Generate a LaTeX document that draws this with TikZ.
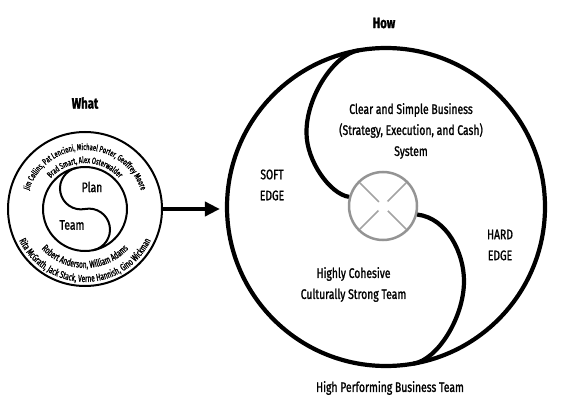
\documentclass[tikz,border=0pt]{standalone}
\usepackage{fontspec}
\setmainfont{Fira Sans}[FakeStretch=0.75, FakeBold=1.3]
\newfontfamily\arcfam{Fira Sans}[FakeStretch=0.66, FakeBold=1.2]
\usetikzlibrary{arrows.meta,decorations.text,fadings}
\newcommand\arcA{\arcfam\fontsize{8.8}{9}\selectfont}
\newcommand\arcB{\arcfam\fontsize{10}{10}\selectfont}
\begin{document}
\begin{tikzpicture}[x=1pt,y=1pt,
  lbl/.style={font=\fontsize{13.8}{21}\selectfont, align=center, inner sep=0pt},
  head/.style={font=\bfseries\fontsize{15}{16}\selectfont, inner sep=0pt},
  thickring/.style={circle, draw, line width=4.2pt, inner sep=0pt},
  thinring/.style={circle, draw, line width=2pt, inner sep=0pt},
  scurve/.style={line width=4.2pt},
  arctext/.style={decorate, decoration={text along path, text align=center, text={#1}}},
]
\useasboundingbox (0,0) rectangle (576,416);
% big circle
\node[thickring, minimum size=318pt] (bc) at (386,209) {};
% centre circle with cross
\node[circle, draw=black!42, line width=2.5pt, minimum size=68pt, inner sep=0pt] (sc) at (383,210) {};
\draw[black!36, line width=1.7pt, shorten >=2.5pt, shorten <=2.5pt] (sc.45) -- (sc.225);
\draw[black!36, line width=1.7pt, shorten >=2.5pt, shorten <=2.5pt] (sc.135) -- (sc.315);
\fill[white, path fading=circle with fuzzy edge 15 percent] (sc.center) circle (7);
% S curve
\draw[scurve] ([shift={(bc.center)}]100:159) .. controls (335,362) and (306,320) .. (306.5,283)
  .. controls (306.5,255) and (330,222) .. (sc.165);
\draw[scurve] (sc.-14) .. controls (447,198) and (464,163) .. (464,135)
  .. controls (464,98) and (437,56) .. ([shift={(bc.center)}]-80:159);
% left diagram
\node[thinring, minimum size=154pt] (lc) at (85,207) {};
\node[thinring, minimum size=84pt] (li) at (85,207) {};
\begin{scope}[shift={(li.center)}, rotate=11]
  \draw[line width=2pt] (0,42) arc[start angle=90, end angle=270, radius=21]
    arc[start angle=90, end angle=-90, radius=21];
\end{scope}
% arrow
\draw[line width=4pt, -{Triangle[length=15pt,width=14pt]}, shorten >=5pt] (lc.east) -- (lc.east -| bc.west);
% curved texts
\path[arctext={|\arcA|Jim Collins, Pat Lencioni, Michael Porter, Geoffrey Moore}]
  ([shift={(lc.center)}]167:59) arc[start angle=167, end angle=13, radius=59];
\path[arctext={|\arcA|Brad Smart, Alex Osterwalder}]
  ([shift={(lc.center)}]140:46) arc[start angle=140, end angle=40, radius=46];
\path[arctext={|\arcB|Robert Anderson, William Adams}]
  ([shift={(lc.center)}]210:59) arc[start angle=210, end angle=330, radius=59];
\path[arctext={|\arcB|Rita McGrath, Jack Stack, Verne Hannish, Gino Wickman}]
  ([shift={(lc.center)}]196:73) arc[start angle=196, end angle=344, radius=73];
% labels
\node[head] (how) at (384,393) {How};
\node[head] (what) at (85,313) {What};
\node[lbl] (sys) at (411,285) {Clear and Simple Business\\(Strategy, Execution, and Cash)\\System};
\node[lbl] (soft) at (272,231) {SOFT\\EDGE};
\node[lbl] (hard) at (500,171) {HARD\\EDGE};
\node[lbl] (team) at (353.5,131.5) {Highly Cohesive\\Culturally Strong Team};
\node[lbl] (hpbt) at (390,28) {High Performing Business Team};
\node[lbl] (plan) at (92,229) {Plan};
\node[lbl] (tm) at (72,191) {Team};
\end{tikzpicture}
\end{document}
